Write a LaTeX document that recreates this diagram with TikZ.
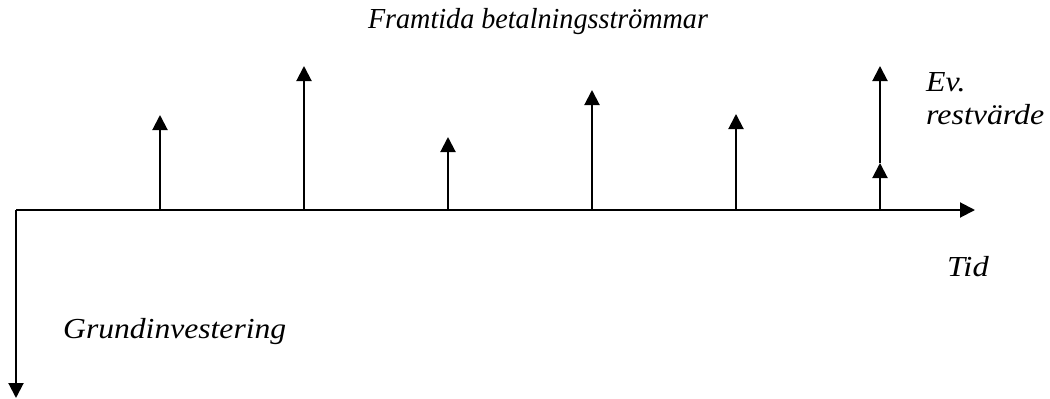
\documentclass[tikz,border=0pt]{standalone}
\usepackage{fontspec}
\setmainfont{Liberation Serif}
\usetikzlibrary{arrows.meta}
\newcommand{\wide}[2]{\scalebox{#1}[1]{#2}}
\begin{document}
\begin{tikzpicture}[x=1pt,y=-1pt,
  axis/.style={line width=2pt,-{Triangle[length=15pt,width=15pt]}},
  flow/.style={line width=2pt,-{Triangle[length=15pt,width=15pt]}},
  lbl/.style={font=\fontsize{29}{34}\selectfont\itshape,inner sep=0pt}]
\useasboundingbox (0,0) rectangle (1050,399);
\coordinate (o) at (16,210);
\coordinate (xend) at (975,210);
\coordinate (yend) at (16,398);
\draw[axis] (o) -- (xend);
\draw[axis] (o) -- (yend);
\foreach \n/\x/\t in {a/160/115, b/304/66, c/448/137, d/592/90, e/736/114}{
  \coordinate (\n0) at (\x,210);
  \coordinate (\n1) at (\x,\t);
  \draw[flow] (\n0) -- (\n1);
}
\coordinate (f0) at (880,210);
\coordinate (f1) at (880,163);
\coordinate (f2) at (880,66);
\draw[flow] (f0) -- (f1);
\draw[flow] (f1) -- (f2);
\node[lbl] (title) at (538,22) {\wide{0.97}{Framtida betalningsströmmar}};
\node[lbl,anchor=west] (ev) at (926,82) {\wide{1.1}{Ev.}};
\node[lbl,anchor=west] (rest) at (926,115) {\wide{1.1}{restvärde}};
\node[lbl,anchor=west] (tid) at (947,267) {\wide{1.12}{Tid}};
\node[lbl,anchor=west] (grund) at (63,332) {\wide{1.09}{Grundinvestering}};
\end{tikzpicture}
\end{document}
